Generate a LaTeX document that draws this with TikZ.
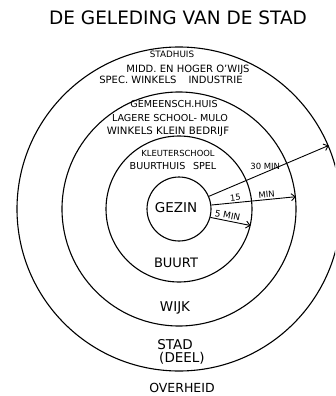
\documentclass[tikz,border=0pt]{standalone}
\usepackage{fontspec}
\setmainfont{DejaVu Sans}
\usetikzlibrary{arrows.meta, positioning}

\begin{document}
\begin{tikzpicture}[
  x=1pt, y=-1pt,
  ring/.style={
    draw, circle, inner sep=0pt,
    minimum size=#1, line width=1.1pt
  },
  lbl/.style={
    font=\fontsize{#1}{#1}\selectfont,
    anchor=base, inner sep=0pt
  },
  minlbl/.style={
    font=\fontsize{#1}{#1}\selectfont,
    sloped, above, inner sep=1.5pt
  },
  arr/.style={-{Straight Barb[length=4pt, width=7pt]}, line width=0.9pt}
]
\clip (0,0) rectangle (335,396);

%% ═══ TITEL ═══
\node[lbl=18.5] (titel) at (178,25) {DE GELEDING VAN DE STAD};

%% ═══ RINGEN ═══
\node[ring=324pt] (stad) at (179,209) {};
\node[ring=234pt] (wijk) at (179,209) {};
\node[ring=146pt] (buurt) at (179,209) {};
\node[ring=64pt] (gezin) at (179,209) {};
\node[lbl=13.5] (gezintxt) at (176,212) {GEZIN};

%% ═══ STAD ═══
\node[lbl=8.8] (stadhuis) at (172,58) {STADHUIS};
\node[lbl=10] (onderwijs) at (188,72) {MIDD. EN HOGER O'WIJS};
\node[lbl=10] (industrie) at (171,84) {SPEC. WINKELS\hspace{1.2em}INDUSTRIE};
\node[lbl=13.5] (stadtxt) at (175,349) {STAD};
\node[lbl=13.5] (deeltxt) at (182,362) {(DEEL)};
\node[lbl=12.5] (overheid) at (182,392) {OVERHEID};

%% ═══ WIJK ═══
\node[lbl=9.6] (gemhuis) at (174,107) {GEMEENSCH.HUIS};
\node[lbl=9.6] (school) at (170,121) {LAGERE SCHOOL- MULO};
\node[lbl=10.2] (bedrijf) at (168,134) {WINKELS KLEIN BEDRIJF};
\node[lbl=13.5] (wijktxt) at (175,311) {WIJK};

%% ═══ BUURT ═══
\node[lbl=8.4] (kleuter) at (178,156) {KLEUTERSCHOOL};
\node[lbl=9.6] (buurthuis) at (173,169) {BUURTHUIS\hspace{0.8em}SPEL};
\node[lbl=13] (buurttxt) at (176,267) {BUURT};

%% ═══ AFSTANDEN ═══
\draw[arr] (gezin.-15) -- (buurt.-13)
  node[minlbl=9, pos=0.4] {5 MIN};
\draw[arr] (gezin.7) -- (wijk.6)
  node[minlbl=8.5, pos=0.29] {15}
  node[minlbl=8.5, pos=0.66] {MIN};
\draw[arr] (gezin.23) -- (stad.23)
  node[font=\fontsize{8.5}{8.5}\selectfont, pos=0.47, anchor=south, inner sep=2pt] {30 MIN};

\end{tikzpicture}
\end{document}
